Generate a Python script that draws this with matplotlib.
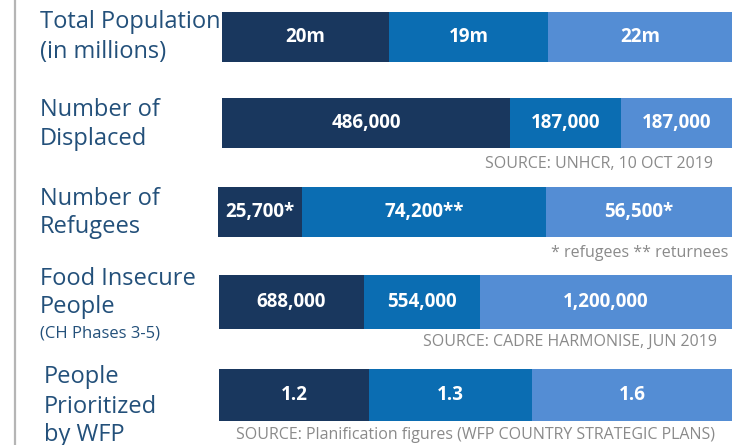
import matplotlib
matplotlib.use("Agg")
import matplotlib.pyplot as plt

plt.rcParams["font.family"] = ["Open Sans", "DejaVu Sans"]

# Data
row_labels = [
    ["Total Population", "(in millions)"],
    ["Number of", "Displaced"],
    ["Number of", "Refugees"],
    ["Food Insecure", "People", "(CH Phases 3-5)"],
    ["People", "Prioritized", "by WFP"],
]
total_population = [20, 19, 22]
displaced = [486000, 187000, 187000]
refugees = [25700, 74200, 56500]
food_insecure = [688000, 554000, 1200000]
wfp_prioritized = [1.2, 1.3, 1.6]

pop_text = ["20m", "19m", "22m"]
displaced_text = ["486,000", "187,000", "187,000"]
refugees_text = ["25,700*", "74,200**", "56,500*"]
food_text = ["688,000", "554,000", "1,200,000"]
wfp_text = ["1.2", "1.3", "1.6"]

sources = [
    "",
    "SOURCE: UNHCR, 10 OCT 2019",
    "* refugees ** returnees",
    "SOURCE: CADRE HARMONISE, JUN 2019",
    "SOURCE: Planification figures (WFP COUNTRY STRATEGIC PLANS)",
]

series = [total_population, displaced, refugees, food_insecure, wfp_prioritized]
series_text = [pop_text, displaced_text, refugees_text, food_text, wfp_text]

colors = ["#19375e", "#0b6db2", "#548dd4"]
LABEL_COLOR = "#23507a"
SOURCE_COLOR = "#8a8a8a"

W, H = 732, 445
# layout in pixels: bar left, bar top, bar height
bar_left = [222, 222, 218, 219, 219]
bar_top = [12, 98, 187, 275, 369]
bar_h = [50, 50, 50, 54, 52]
label_x = [40, 40, 40, 40, 44]
label_baselines = [[28, 58], [116, 145], [205, 233], [285, 313, 337], [383, 413, 441]]
label_sizes = [[17, 17], [17, 17], [17, 17], [17, 17, 12], [17, 17, 17]]
source_x = [0, 713, 728, 717, 715]
source_y = [0, 164, 253, 342, 435]

fig = plt.figure(figsize=(W / 100, H / 100), dpi=100)

# gray rule on the left
fig.add_artist(plt.Line2D([15 / W, 15 / W], [0, 1], color="#b5b5b5", linewidth=1.6))

for i, vals in enumerate(series):
    ax = fig.add_axes([bar_left[i] / W, 1 - (bar_top[i] + bar_h[i]) / H,
                       (W - bar_left[i]) / W, bar_h[i] / H])
    total = sum(vals)
    start = 0
    for j, v in enumerate(vals):
        frac = v / total
        ax.barh(0, frac, left=start, height=1, color=colors[j], linewidth=0)
        ax.text(start + frac / 2, 0, series_text[i][j], ha="center", va="center",
                color="white", fontsize=13.5, fontweight="bold")
        start += frac
    ax.set_xlim(0, 1)
    ax.set_ylim(-0.5, 0.5)
    ax.axis("off")

    for line, yb, fs in zip(row_labels[i], label_baselines[i], label_sizes[i]):
        fig.text(label_x[i] / W, 1 - yb / H, line, ha="left", va="baseline",
                 fontsize=fs, color=LABEL_COLOR)

    if sources[i]:
        fig.text(source_x[i] / W, 1 - source_y[i] / H, sources[i], ha="right",
                 va="center", fontsize=11.5, color=SOURCE_COLOR)

fig.savefig("out.png", dpi=100)
